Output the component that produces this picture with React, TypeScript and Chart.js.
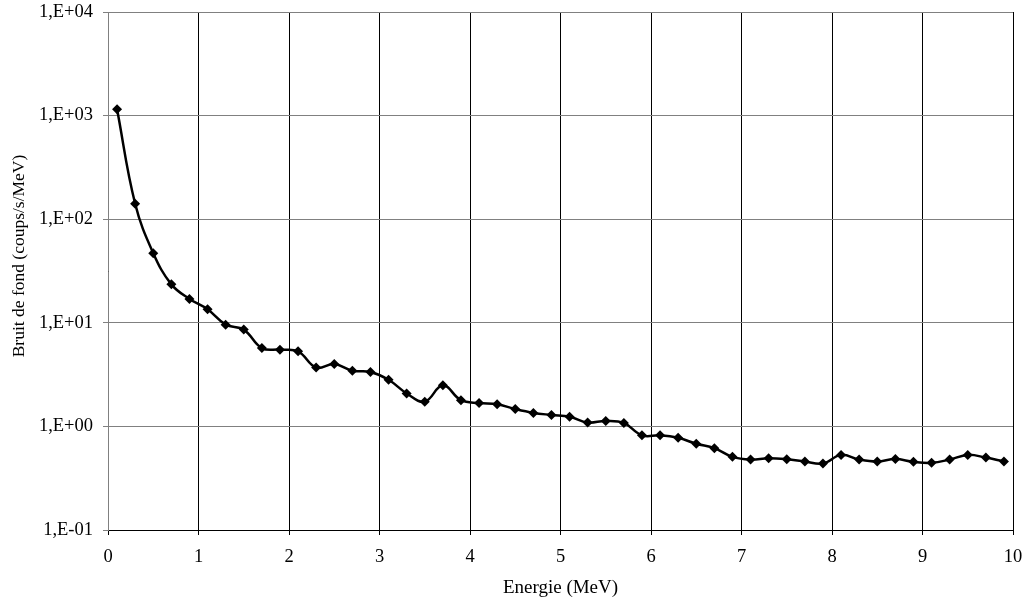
import React, { useEffect, useRef } from "react";
import { Chart, registerables } from "chart.js";

Chart.register(...registerables);

const energies = [0.1, 0.3, 0.5, 0.7, 0.9, 1.1, 1.3, 1.5, 1.7, 1.9, 2.1, 2.3, 2.5, 2.7, 2.9, 3.1, 3.3, 3.5, 3.7, 3.9, 4.1, 4.3, 4.5, 4.7, 4.9, 5.1, 5.3, 5.5, 5.7, 5.9, 6.1, 6.3, 6.5, 6.7, 6.9, 7.1, 7.3, 7.5, 7.7, 7.9, 8.1, 8.3, 8.5, 8.7, 8.9, 9.1, 9.3, 9.5, 9.7, 9.9];
const bruit = [1150, 141, 47, 23.5, 17, 13.5, 9.6, 8.6, 5.7, 5.5, 5.3, 3.7, 4.0, 3.45, 3.35, 2.82, 2.08, 1.73, 2.49, 1.79, 1.68, 1.64, 1.47, 1.35, 1.29, 1.24, 1.09, 1.13, 1.08, 0.82, 0.82, 0.776, 0.68, 0.617, 0.508, 0.479, 0.493, 0.482, 0.458, 0.438, 0.531, 0.479, 0.458, 0.484, 0.455, 0.445, 0.479, 0.531, 0.5, 0.458];
const yTicks = [0.1, 1, 10, 100, 1000, 10000];
const xTitle = "Energie (MeV)";
const yTitle = "Bruit de fond (coups/s/MeV)";

const FONT = "'Liberation Serif', 'Times New Roman', serif";

function fmtExp(v: number): string {
  const e = Math.round(Math.log10(v));
  const s = e >= 0 ? "+" : "-";
  const a = Math.abs(e);
  return `1,E${s}${a < 10 ? "0" + a : a}`;
}

// Draws the y-axis title slightly above the plot-area centre, like the original.
const yTitlePlugin = {
  id: "yTitleOffset",
  afterDraw(chart: any) {
    const { ctx, chartArea } = chart;
    const cy = (chartArea.top + chartArea.bottom) / 2 - 15;
    ctx.save();
    ctx.translate(19, cy);
    ctx.rotate(-Math.PI / 2);
    ctx.font = `17.5px ${FONT}`;
    ctx.fillStyle = "#000";
    ctx.textAlign = "center";
    ctx.textBaseline = "middle";
    ctx.fillText(yTitle, 0, 0);
    ctx.restore();
  },
};

export default function App() {
  const ref = useRef<HTMLCanvasElement | null>(null);
  useEffect(() => {
    if (!ref.current) return;
    const chart = new Chart(ref.current, {
      type: "line",
      data: {
        datasets: [
          {
            data: energies.map((x, i) => ({ x, y: bruit[i] })),
            borderColor: "#000",
            backgroundColor: "#000",
            borderWidth: 2.5,
            pointStyle: "rectRot",
            pointRadius: 5,
            pointBorderWidth: 0,
            tension: 0.4,
            fill: false,
          },
        ],
      },
      plugins: [yTitlePlugin],
      options: {
        responsive: false,
        animation: false,
        layout: { padding: { top: 12, right: 13, left: 0, bottom: 0 } },
        plugins: { legend: { display: false }, tooltip: { enabled: false } },
        scales: {
          x: {
            type: "linear",
            min: 0,
            max: 10,
            afterFit: (s: any) => {
              s.height = 73;
              s.paddingLeft = 0;
              s.paddingRight = 0;
            },
            ticks: {
              stepSize: 1,
              color: "#000",
              padding: 11,
              font: { family: FONT, size: 18.5 },
              maxRotation: 0,
            },
            grid: { color: "#000", lineWidth: 1, tickLength: 5 },
            border: { color: "#000" },
            title: {
              display: true,
              text: xTitle,
              color: "#000",
              font: { family: FONT, size: 19 },
              padding: { top: 0, bottom: 4 },
            },
          },
          y: {
            type: "logarithmic",
            min: 0.1,
            max: 10000,
            afterFit: (s: any) => {
              s.width = 108;
              s.paddingTop = 0;
              s.paddingBottom = 0;
            },
            afterBuildTicks: (s: any) => {
              s.ticks = yTicks.map((v) => ({ value: v }));
            },
            ticks: {
              color: "#000",
              padding: 10,
              font: { family: FONT, size: 18.5 },
              callback: (v: any) => fmtExp(Number(v)),
            },
            grid: { color: "#808080", lineWidth: 1, tickLength: 5 },
            border: { color: "#808080" },
            title: { display: false },
          },
        },
      },
    });
    return () => chart.destroy();
  }, []);
  return (
    <canvas
      ref={ref}
      width={1026}
      height={603}
      style={{ display: "block", position: "fixed", left: 0, top: 0 }}
    />
  );
}
